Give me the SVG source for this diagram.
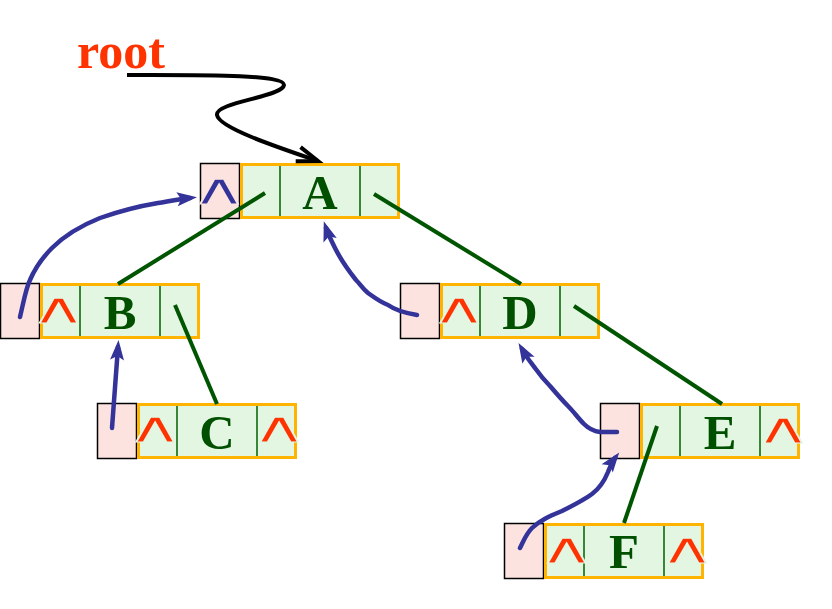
<svg xmlns="http://www.w3.org/2000/svg" width="832" height="609" viewBox="0 0 832 609">
<defs>
<style>
.pk{fill:#FCE3E0;stroke:#000;stroke-width:1.5}
.gr{fill:#E2F6E2;stroke:#FFB400;stroke-width:3}
.dv{stroke:#006000;stroke-width:1.5}
.lt{font-family:"Liberation Serif","Times New Roman",serif;font-weight:bold;font-size:49px;fill:#005000;text-anchor:middle}
.cr{font-family:"DejaVu Sans",sans-serif;font-size:43px;fill:#FF3300;text-anchor:middle;stroke:#E2F6E2;stroke-width:1.1}
.cb{fill:#333399;stroke:#FCE3E0}
.tl{stroke:#005500;stroke-width:4;stroke-linecap:butt;fill:none}
.bl{stroke:#333399;stroke-width:4.5;fill:none;stroke-linecap:round;stroke-linejoin:round;marker-end:url(#ah)}
</style>
<marker id="ah" markerUnits="userSpaceOnUse" viewBox="0 0 20 14" markerWidth="20" markerHeight="14" refX="13" refY="7" orient="auto" overflow="visible">
<path d="M0,0 L20,7 L0,14 L4,7 z" fill="#333399"/>
</marker>
<marker id="oh" markerUnits="userSpaceOnUse" viewBox="0 0 24 18" markerWidth="24" markerHeight="18" refX="22" refY="9" orient="auto" overflow="visible">
<path d="M1,1.5 L22,9 L1,16.5" fill="none" stroke="#000" stroke-width="4" stroke-linejoin="miter"/>
</marker>
</defs>
<rect width="832" height="609" fill="#fff"/>
<text x="77" y="68" font-family="Liberation Serif,Times New Roman,serif" font-weight="bold" font-size="50" fill="#FF3300">root</text>

<g id="nodeA">
<rect class="pk" x="200.5" y="163.5" width="39" height="55"/>
<rect class="gr" x="241.5" y="164.5" width="157" height="53"/>
<line class="dv" x1="280" y1="166" x2="280" y2="216"/>
<line class="dv" x1="360" y1="166" x2="360" y2="216"/>
<text class="lt" x="320" y="209">A</text>
<text class="cr cb" transform="translate(219,204) scale(1.85,1)">∧</text>
</g>
<g id="nodeB">
<rect class="pk" x="0.5" y="283.5" width="39" height="55"/>
<rect class="gr" x="41.5" y="284.5" width="157" height="53"/>
<line class="dv" x1="80" y1="286" x2="80" y2="336"/>
<line class="dv" x1="160" y1="286" x2="160" y2="336"/>
<text class="lt" x="120" y="329">B</text>
<text class="cr" transform="translate(58.5,323) scale(1.85,1)">∧</text>
</g>
<g id="nodeC">
<rect class="pk" x="97.5" y="403.5" width="39" height="55"/>
<rect class="gr" x="138.5" y="404.5" width="157" height="53"/>
<line class="dv" x1="177" y1="406" x2="177" y2="456"/>
<line class="dv" x1="257" y1="406" x2="257" y2="456"/>
<text class="lt" x="217" y="449">C</text>
<text class="cr" transform="translate(155,442) scale(1.85,1)">∧</text>
<text class="cr" transform="translate(279,442) scale(1.85,1)">∧</text>
</g>
<g id="nodeD">
<rect class="pk" x="400.5" y="283.5" width="39" height="55"/>
<rect class="gr" x="441.5" y="284.5" width="157" height="53"/>
<line class="dv" x1="480" y1="286" x2="480" y2="336"/>
<line class="dv" x1="560" y1="286" x2="560" y2="336"/>
<text class="lt" x="520" y="329">D</text>
<text class="cr" transform="translate(459,323) scale(1.85,1)">∧</text>
</g>
<g id="nodeE">
<rect class="pk" x="600.5" y="403.5" width="39" height="55"/>
<rect class="gr" x="641.5" y="404.5" width="157" height="53"/>
<line class="dv" x1="680" y1="406" x2="680" y2="456"/>
<line class="dv" x1="760" y1="406" x2="760" y2="456"/>
<text class="lt" x="720" y="449">E</text>
<text class="cr" transform="translate(783,443) scale(1.85,1)">∧</text>
</g>
<g id="nodeF">
<rect class="pk" x="504.5" y="523.5" width="39" height="55"/>
<rect class="gr" x="545.5" y="524.5" width="157" height="53"/>
<line class="dv" x1="584" y1="526" x2="584" y2="576"/>
<line class="dv" x1="664" y1="526" x2="664" y2="576"/>
<text class="lt" x="624" y="568">F</text>
<text class="cr" transform="translate(566.5,563) scale(1.85,1)">∧</text>
<text class="cr" transform="translate(687,563) scale(1.85,1)">∧</text>
</g>

<g id="connectors">
<path d="M127,75 C200,75 285,74 284,85 C283,97 215,102 217,115 C219,128 280,148 318,161" fill="none" stroke="#000" stroke-width="4" marker-end="url(#oh)"/>
<line class="tl" x1="265" y1="193" x2="118" y2="284"/>
<line class="tl" x1="374" y1="194" x2="521" y2="284"/>
<line class="tl" x1="175" y1="305" x2="217" y2="404"/>
<line class="tl" x1="574" y1="306" x2="722" y2="404"/>
<line class="tl" x1="657" y1="426" x2="624" y2="523"/>
<path class="bl" d="M20,317 C24,300 26,288 30,280 C36,266 44,256 52,248 C64,236 80,226 100,218 C120,211 140,206 158,203 C170,201 180,199 190,198"/>
<path class="bl" d="M112,428 L118,347"/>
<path class="bl" d="M417,315 C405,313 395,310 388,305 C380,302 375,298 368,293 C362,288 360,284 356,280 C348,270 340,258 335,248 C331,240 328,234 326,228"/>
<path class="bl" d="M617,432 L600,432 C592,431 588,428 584,424 C578,418 574,412 568,406 C562,400 556,393 550,386 C544,380 540,375 535,368 C530,362 526,356 522,349"/>
<path class="bl" d="M520,548 C524,540 526,534 532,528 C540,520 550,516 562,511 C574,505 584,500 592,494 C600,488 604,482 608,472 C610,466 612,462 615,458"/>
</g>
</svg>
